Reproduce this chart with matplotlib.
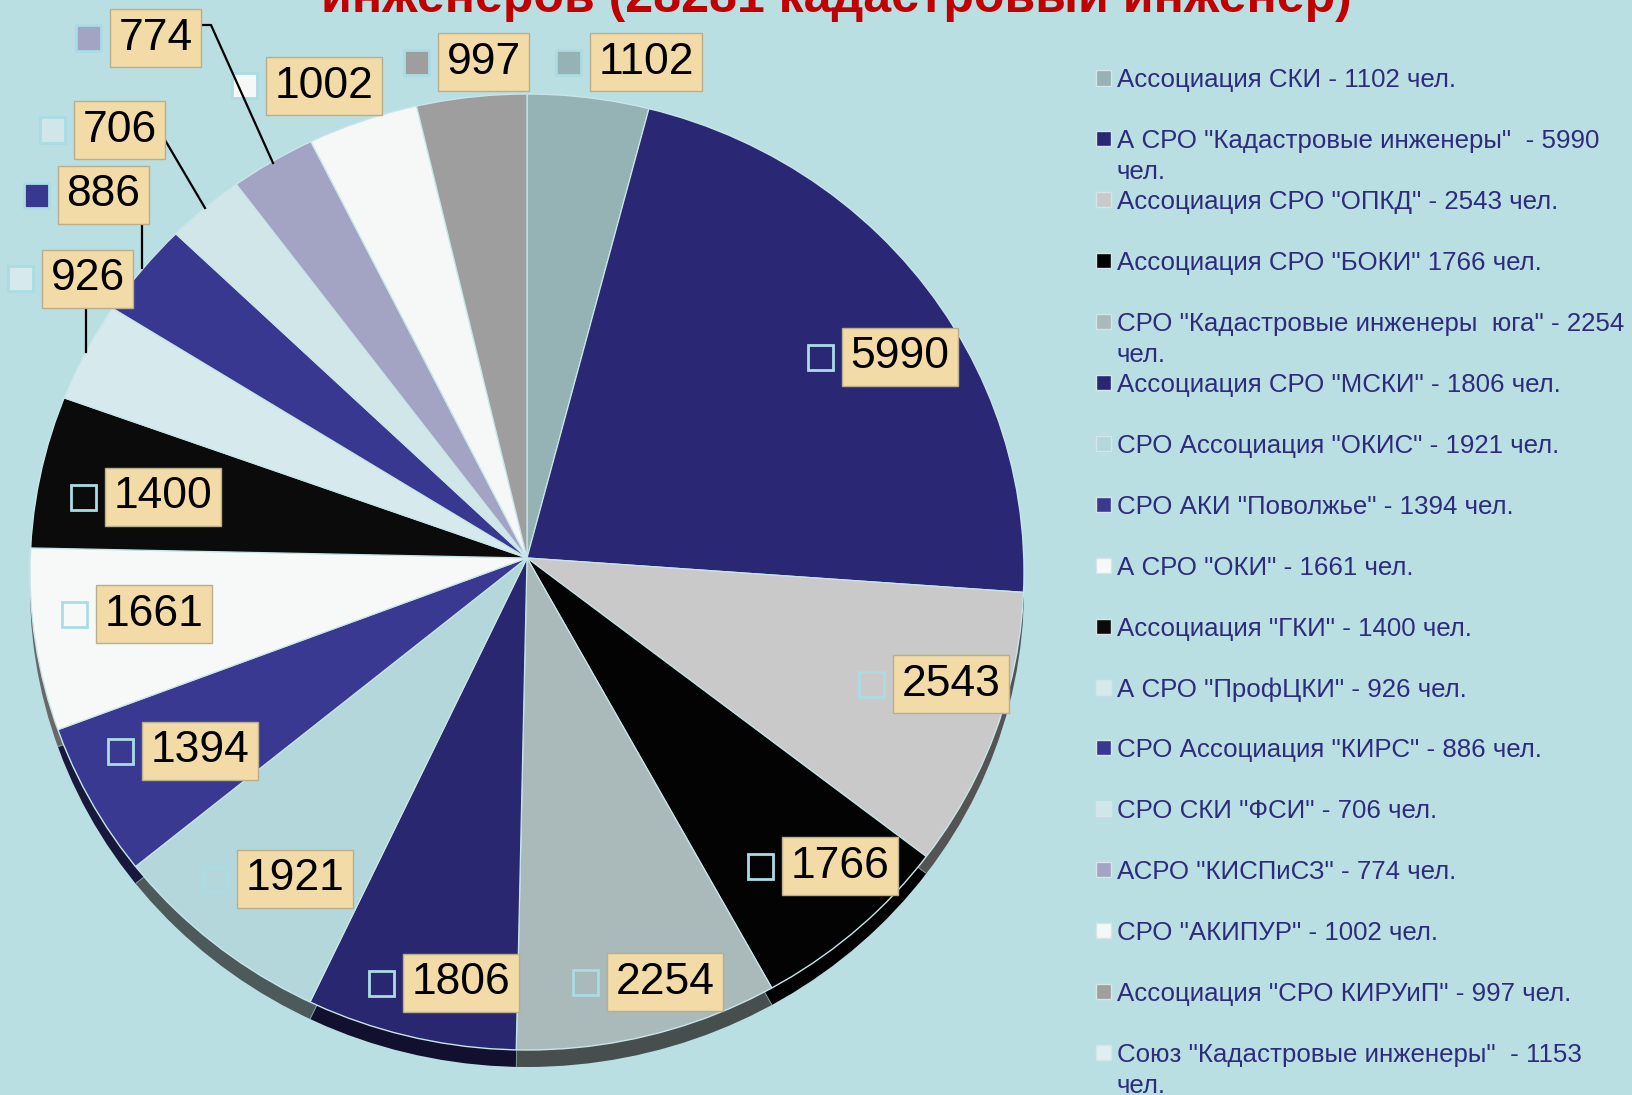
import matplotlib
matplotlib.use("Agg")
import matplotlib.pyplot as plt
from matplotlib.patches import Rectangle, Circle
from matplotlib.lines import Line2D
from matplotlib.colors import to_rgb

plt.rcParams['font.family'] = ['Liberation Sans', 'DejaVu Sans']

# ---------------- data ----------------
values = [1102, 5990, 2543, 1766, 2254, 1806, 1921, 1394, 1661, 1400,
          926, 886, 706, 774, 1002, 997]
colors = ['#95B2B4', '#2A2875', '#C9C9C9', '#030303', '#AAB9BA', '#29276F',
          '#B4D7DC', '#3A3992', '#F7F8F8', '#0B0B0B', '#D6EAED', '#393890',
          '#D1E6E9', '#A3A3C3', '#F6F7F7', '#9E9E9E']
legend_labels = [
    'Ассоциация СКИ - 1102 чел.',
    'А СРО "Кадастровые инженеры"  - 5990\nчел.',
    'Ассоциация СРО "ОПКД" - 2543 чел.',
    'Ассоциация СРО "БОКИ" 1766 чел.',
    'СРО "Кадастровые инженеры  юга" - 2254\nчел.',
    'Ассоциация СРО "МСКИ" - 1806 чел.',
    'СРО Ассоциация "ОКИС" - 1921 чел.',
    'СРО АКИ "Поволжье" - 1394 чел.',
    'А СРО "ОКИ" - 1661 чел.',
    'Ассоциация "ГКИ" - 1400 чел.',
    'А СРО "ПрофЦКИ" - 926 чел.',
    'СРО Ассоциация "КИРС" - 886 чел.',
    'СРО СКИ "ФСИ" - 706 чел.',
    'АСРО "КИСПиСЗ" - 774 чел.',
    'СРО "АКИПУР" - 1002 чел.',
    'Ассоциация "СРО КИРУиП" - 997 чел.',
    'Союз "Кадастровые инженеры"  - 1153\nчел.',
]
legend_extra_color = '#DDEFF1'   # entry shown only in legend
title_text = 'инженеров (28281 кадастровый инженер)'

# ---------------- layout (pixels) ----------------
W, H = 1633, 1095
BG = '#B9DFE3'
# label box left edge and vertical centre, one per slice
label_pos = [(590, 62), (842, 357), (893, 684), (782, 866), (607, 982),
             (403, 983), (237, 879), (142, 751), (96, 614), (105, 497),
             (42, 279), (58, 195), (74, 130), (110, 38), (266, 86), (438, 62)]
leaders = [[(86, 308), (86, 352)],
           [(142, 225), (142, 268)],
           [(165, 140), (205, 208)],
           [(201, 25), (211, 25), (273, 163)]]

fig = plt.figure(figsize=(W / 100, H / 100), dpi=100, facecolor=BG)


def fx(x):
    return x / W


def fy(y):
    return 1 - y / H


# pie ellipse: centre (527, 572), rx 497, ry 478 ; slices meet a bit higher
cx, cy, rx, ry = 527, 572, 497, 478
ax = fig.add_axes([fx(cx - rx), fy(cy + ry + 20), 2 * rx / W, (2 * ry + 20) / H])
ax.set_facecolor('none')

depth = 17 / ry
apex = 14 / ry
shadow_cols = [tuple(c * 0.42 for c in to_rgb(col)) for col in colors]
sh_wedges, _ = ax.pie(values, colors=shadow_cols, startangle=90,
                      counterclock=False, radius=1.2,
                      center=(0, apex - depth),
                      wedgeprops=dict(edgecolor='#7FA0A4', linewidth=0.6))
wedges, _ = ax.pie(values, colors=colors, startangle=90, counterclock=False,
                   radius=1.2, center=(0, apex),
                   wedgeprops=dict(edgecolor='#C8E6EA', linewidth=0.9))
ax.set_aspect('auto')
ax.set_xlim(-1, 1)
ax.set_ylim(-1 - 20 / ry, 1)
ax.set_axis_off()

clip_top = Circle((0, 0), 1, transform=ax.transData)
clip_sh = Circle((0, -depth), 1, transform=ax.transData)
for w in wedges:
    w.set_clip_on(True)
    w.set_clip_path(clip_top)
for w in sh_wedges:
    w.set_clip_on(True)
    w.set_clip_path(clip_sh)
ax.add_patch(Circle((0, 0), 1, facecolor='none', edgecolor='#C8E6EA',
                    lw=1.0, clip_on=False))

# leader lines
for pts in leaders:
    xs = [fx(p[0]) for p in pts]
    ys = [fy(p[1]) for p in pts]
    fig.add_artist(Line2D(xs, ys, color='black', lw=1.6,
                          transform=fig.transFigure))

# data labels with key squares
pad = 0.19
pad_px = pad * 32 * 100 / 72
for v, col, (bx, by) in zip(values, colors, label_pos):
    fig.add_artist(Rectangle((fx(bx - 34), fy(by + 12.5)), 25 / W, 25 / H,
                             facecolor=col, edgecolor='#ABDCE4', lw=2,
                             transform=fig.transFigure))
    fig.text(fx(bx + pad_px), fy(by), str(v), ha='left', va='center',
             fontsize=32, color='black',
             bbox=dict(boxstyle='square,pad=%.2f' % pad, facecolor='#F2DBA6',
                       edgecolor='#B9AE8E', lw=1))

# legend (manual)
leg_cols = colors + [legend_extra_color]
y0, dy = 78, 60.9
for i, (lab, col) in enumerate(zip(legend_labels, leg_cols)):
    y = y0 + i * dy
    fig.add_artist(Rectangle((fx(1096), fy(y + 7.5)), 15 / W, 15 / H,
                             facecolor=col, edgecolor='#D6E6E8', lw=1,
                             transform=fig.transFigure))
    for k, line in enumerate(lab.split('\n')):
        fig.text(fx(1117), fy(y + k * 31), line, ha='left', va='center_baseline',
                 fontsize=18.6, color='#2E2B7C')

# title (only lower part visible, as in the reference)
fig.text(fx(836), fy(12), title_text, ha='center', va='baseline',
         fontsize=36, fontweight='bold', color='#C00000')

fig.savefig('out.png', dpi=100, facecolor=BG)
